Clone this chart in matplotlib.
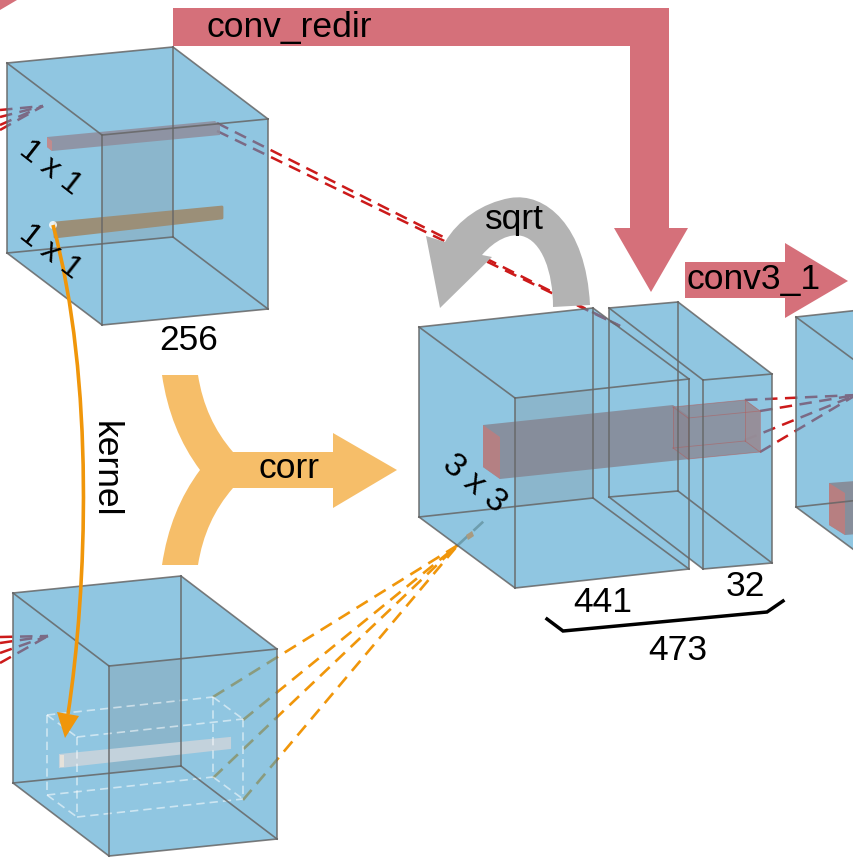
import numpy as np
import matplotlib.pyplot as plt
from matplotlib.patches import Polygon, PathPatch, Circle
from matplotlib.path import Path

plt.rcParams['font.family'] = ['Liberation Sans', 'DejaVu Sans']

# labels of the diagram
op_labels = ["conv_redir", "sqrt", "corr", "conv3_1", "kernel"]
size_labels = ["256", "441", "32", "473"]
kernel_labels = ["1 x 1", "1 x 1", "3 x 3"]

BLUE = (70/255, 160/255, 205/255)
RED = '#d5707a'
ORANGE = '#f6be69'
DASH_RED = '#cc1a1a'
DASH_OR = '#f0960a'

fig = plt.figure(figsize=(8.54, 8.66), dpi=100)
ax = fig.add_axes([0, 0, 1, 1])
ax.set_xlim(0, 854)
ax.set_ylim(866, 0)
ax.axis('off')

P = np.array


def hull(p, u, v, d):
    return [p, p + u, p + u + d, p + u + d + v, p + d + v, p + v]


def overlap(p, u, v, d, z=2.1):
    p, u, v, d = P(p, float), P(u, float), P(v, float), P(d, float)
    a, b = np.linalg.solve(np.column_stack([u, v]), d)
    if a < 1 and b < 1:
        q = p + d
        ov = [q, q + (1 - a) * u, q + (1 - a) * u + (1 - b) * v, q + (1 - b) * v]
        ax.add_patch(Polygon(ov, closed=True, fc=(0.5, 0.58, 0.62), alpha=0.3,
                             ec='none', zorder=z))


def box_edges(p, u, v, d, z=4, **kw):
    p, u, v, d = P(p, float), P(u, float), P(v, float), P(d, float)
    c = {}
    for i in (0, 1):
        for j in (0, 1):
            for k in (0, 1):
                c[(i, j, k)] = p + i * u + j * v + k * d
    for key, pt in c.items():
        for ax_i in range(3):
            if key[ax_i] == 0:
                k2 = list(key)
                k2[ax_i] = 1
                q = c[tuple(k2)]
                ax.plot([pt[0], q[0]], [pt[1], q[1]], zorder=z, **kw)


def draw_bar(q, L, H, D, body, end, end_side='left', alpha=0.85, z=3):
    q, L, H, D = P(q, float), P(L, float), P(H, float), P(D, float)
    ax.add_patch(Polygon(hull(q, L, H, D), closed=True, fc=body, alpha=alpha,
                         ec='none', zorder=z))
    o = q if end_side == 'left' else q + L
    ax.add_patch(Polygon([o, o + D, o + D + H, o + H], closed=True, fc=end,
                         alpha=alpha, ec='none', zorder=z + 0.01))


def dashes(starts, end, color, lw=1.8, z=1, alpha=1.0):
    for s in starts:
        ax.plot([s[0], end[0]], [s[1], end[1]], color=color, lw=lw,
                ls=(0, (5, 3)), zorder=z, alpha=alpha)


# dashed connection lines (drawn beneath the transparent cubes)
dashes([(0, 110), (0, 117), (0, 125), (0, 130)], (43, 106), DASH_RED)
dashes([(0, 637), (0, 643), (0, 653), (0, 663)], (48, 636), DASH_RED)
dashes([(217, 123), (217, 131)], (620, 326), DASH_RED)
dashes([(745, 400), (760, 411), (745, 440), (760, 452)], (856, 395), DASH_RED)
dashes([(213, 697), (243, 720), (213, 778), (243, 800)], (458, 545), DASH_OR, lw=1.9)
dashes([(458, 545)], (485, 520), '#a89a80', lw=1.9)

cubes = [
    ((7, 63), (166, -16), (0, 190), (95, 72)),
    ((13, 593), (168, -17), (0, 190), (96, 73)),
    ((419, 327), (174, -19), (0, 190), (96, 71)),
    ((609, 308), (69, -6), (0, 189), (94, 72)),
    ((796, 317), (174, -19), (0, 190), (96, 71)),
]
# one compound path so overlapping cubes are tinted only once
verts, codes = [], []
for c in cubes:
    h = hull(*[P(x, float) for x in c])
    verts += [tuple(pt) for pt in h] + [tuple(h[0])]
    codes += [Path.MOVETO] + [Path.LINETO] * 5 + [Path.CLOSEPOLY]
ax.add_patch(PathPatch(Path(verts, codes), fc=BLUE, alpha=0.6, ec='none', zorder=2))
for c in cubes:
    overlap(*c)

# inner feature bars
draw_bar((47, 137), (168, -16), (0, 10), (5, 4), '#8f8d9c', '#c98a8a')
ax.add_patch(Polygon([(55, 223), (222, 207), (222, 218), (55, 237)], closed=True,
                     fc='#9b8f78', ec='#9b8f78', lw=2, joinstyle='round', zorder=3))
ax.add_patch(Polygon([(60, 755), (230, 738), (230, 748), (60, 767)], closed=True,
                     fc='#c3d2dc', ec='#c3d2dc', lw=1.5, zorder=3))
ax.add_patch(Polygon([(60, 755), (64, 755), (64, 767), (60, 767)], closed=True,
                     fc='#e6e2da', ec='none', zorder=3.1))
draw_bar((483, 425), (190, -20), (0, 42), (17, 12), '#85838f', '#c07d7d', alpha=0.8)
draw_bar((673, 407), (72, -7), (0, 41), (15, 11), '#8a8894', '#9a8e98', end_side='right', alpha=0.8)
box_edges((673, 407), (72, -7), (0, 41), (15, 11), z=3.2, color='#b06060', lw=0.6, alpha=0.6)
draw_bar((829, 483), (80, -6), (0, 42), (16, 10), '#86848f', '#c07d7d')
ax.add_patch(Polygon([(466, 535), (472, 531), (474, 536), (468, 540)], closed=True,
                     fc='#a89a80', ec='none', zorder=3))

# kernel dashed window in lower cube
box_edges((47, 715), (166, -18), (0, 80), (30, 22), z=3.5, color='white', lw=1.2,
          ls=(0, (5, 3)), alpha=0.55)

# cube edges
for c in cubes:
    box_edges(*c, color='#666666', lw=1.2, alpha=0.85)

# conv_redir arrow
ax.add_patch(Polygon([(173, 8), (669, 8), (669, 228), (688, 228), (651, 292),
                      (614, 228), (630, 228), (630, 46), (173, 46)],
                     closed=True, fc=RED, ec='none', zorder=5))
ax.add_patch(Polygon([(0, 0), (17, 0), (0, 10)], closed=True, fc=RED, ec='none', zorder=5))

# conv3_1 arrow
ax.add_patch(Polygon([(685, 262), (785, 262), (785, 243), (848, 281), (785, 318),
                      (785, 298), (685, 298)], closed=True, fc=RED, ec='none', zorder=5))

# corr arrow (Y-shaped merge)
verts = [(162, 375), (170, 430), (200, 470), (170, 510), (162, 565), (198, 565),
         (205, 520), (233, 488), (333, 488), (333, 508), (397, 470), (333, 433),
         (333, 452), (233, 452), (205, 420), (198, 375), (162, 375)]
codes = [Path.MOVETO, Path.CURVE3, Path.CURVE3, Path.CURVE3, Path.CURVE3, Path.LINETO,
         Path.CURVE3, Path.CURVE3, Path.LINETO, Path.LINETO, Path.LINETO, Path.LINETO,
         Path.LINETO, Path.LINETO, Path.CURVE3, Path.CURVE3, Path.CLOSEPOLY]
ax.add_patch(PathPatch(Path(verts, codes), fc=ORANGE, ec='none', zorder=5))

# sqrt curved arrow
verts = [(553, 307), (590, 305),
         (586, 225), (545, 192), (510, 198),
         (482, 203), (458, 220), (445, 242),
         (426, 236), (440, 308), (492, 257), (482, 255),
         (495, 240), (510, 233), (522, 236),
         (542, 241), (553, 272), (553, 307),
         (553, 307)]
codes = [Path.MOVETO, Path.LINETO,
         Path.CURVE4, Path.CURVE4, Path.CURVE4,
         Path.CURVE4, Path.CURVE4, Path.CURVE4,
         Path.LINETO, Path.LINETO, Path.LINETO, Path.LINETO,
         Path.CURVE4, Path.CURVE4, Path.CURVE4,
         Path.CURVE4, Path.CURVE4, Path.CURVE4,
         Path.CLOSEPOLY]
ax.add_patch(PathPatch(Path(verts, codes), fc='#b3b3b3', ec='none', zorder=5))

# kernel arrow
ax.add_patch(Circle((53, 225), 4, fc='white', ec='none', alpha=0.8, zorder=5.5))
kpath = Path([(53, 225), (95, 380), (87, 590), (68, 714)],
             [Path.MOVETO, Path.CURVE4, Path.CURVE4, Path.CURVE4])
ax.add_patch(PathPatch(kpath, fc='none', ec='#f0960a', lw=2.6, zorder=6))
ax.add_patch(Polygon([(57, 712), (79, 716), (65, 738)], closed=True, fc='#f0960a',
                     ec='none', zorder=6))

# brace under the concatenated block
ax.plot([547, 563, 767, 783], [619, 631, 612, 601], color='black', lw=2.5,
        solid_joinstyle='miter', zorder=6)

fs = 25.5
ax.text(289, 27, op_labels[0], fontsize=fs, ha='center', va='center', zorder=7)
ax.text(514, 220, op_labels[1], fontsize=fs, ha='center', va='center', zorder=7)
ax.text(289, 469, op_labels[2], fontsize=fs, ha='center', va='center', zorder=7)
ax.text(754, 280, op_labels[3], fontsize=fs, ha='center', va='center', zorder=7)
ax.text(105, 469, op_labels[4], fontsize=fs, ha='center', va='center', rotation=-90, zorder=7)

ax.text(189, 341, size_labels[0], fontsize=fs, ha='center', va='center', zorder=7)
ax.text(603, 603, size_labels[1], fontsize=fs, ha='center', va='center', zorder=7)
ax.text(745, 587, size_labels[2], fontsize=fs, ha='center', va='center', zorder=7)
ax.text(678, 650, size_labels[3], fontsize=fs, ha='center', va='center', zorder=7)

ax.text(50, 168, kernel_labels[0], fontsize=23, ha='center', va='center', rotation=-38, zorder=7)
ax.text(50, 252, kernel_labels[1], fontsize=23, ha='center', va='center', rotation=-38, zorder=7)
ax.text(474, 484, kernel_labels[2], fontsize=24, ha='center', va='center', rotation=-40, zorder=7)

fig.savefig('out.png', dpi=100)
